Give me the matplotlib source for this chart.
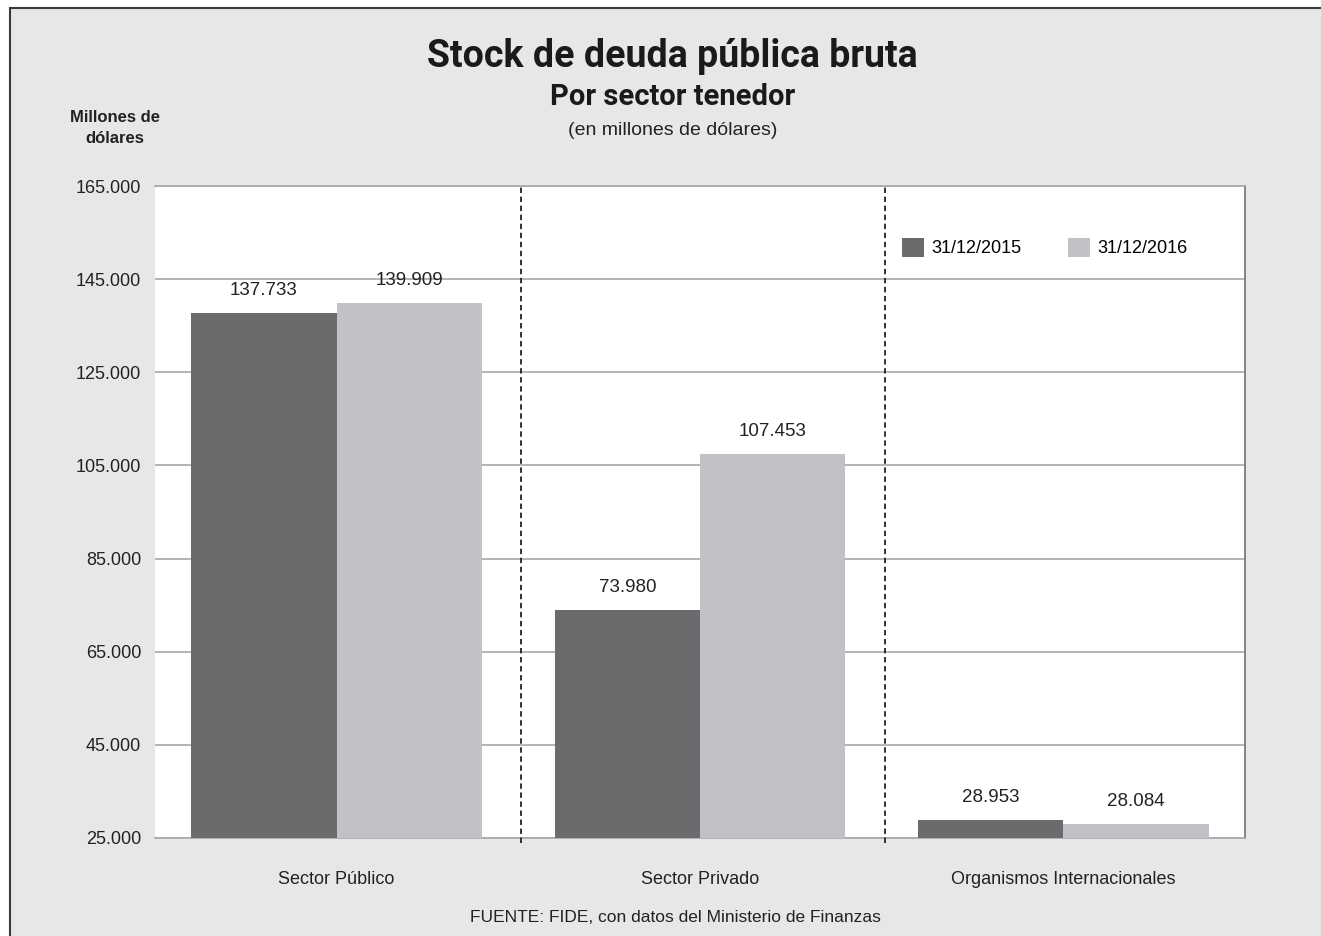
import matplotlib.pyplot as plt
from matplotlib.patches import Rectangle
import numpy as np

categorias = ["Sector Público", "Sector Privado", "Organismos Internacionales"]
dic_2015 = [137733, 73980, 28953]
dic_2016 = [139909, 107453, 28084]
etiquetas_2015 = ["137.733", "73.980", "28.953"]
etiquetas_2016 = ["139.909", "107.453", "28.084"]
ticks_y = [25000, 45000, 65000, 85000, 105000, 125000, 145000, 165000]
series = ["31/12/2015", "31/12/2016"]

oscuro = "#6b6b6d"
claro = "#c1c2c6"
fondo = "#e6e7e9"
texto = ["Liberation Sans", "DejaVu Sans"]

fig = plt.figure(figsize=(13.21, 9.36), dpi=100)
fig.patch.set_facecolor("white")
fig.patches.append(Rectangle((10 / 1321, -0.02), 1.05, 1.02 - 8 / 936,
                             transform=fig.transFigure, facecolor=fondo,
                             edgecolor="#3a3a3a", linewidth=1.5, zorder=-5))

ax = fig.add_axes([155 / 1321, 98 / 936, 1090 / 1321, 652 / 936])
ax.set_zorder(2)
ax.set_facecolor("white")

x = np.arange(len(categorias))
w = 0.4
b1 = ax.bar(x - w / 2, dic_2015, w, color=oscuro, zorder=3)
b2 = ax.bar(x + w / 2, dic_2016, w, color=claro, zorder=3)

for barras, etiquetas in [(b1, etiquetas_2015), (b2, etiquetas_2016)]:
    for r, t in zip(barras, etiquetas):
        ax.annotate(t, (r.get_x() + r.get_width() / 2, r.get_height()),
                    xytext=(0, 10), textcoords="offset points",
                    ha="center", va="bottom", fontsize=13.5, family=texto,
                    color="#222222")

ax.set_xlim(-0.5, 2.5)
ax.set_ylim(25000, 165000)
ax.set_yticks(ticks_y)
ax.set_yticklabels([f"{v:,}".replace(",", ".") for v in ticks_y],
                   fontsize=13, family=texto, color="#222222")
ax.set_xticks(x)
ax.set_xticklabels(categorias, fontsize=13, family=texto, color="#222222")
ax.tick_params(axis="both", length=0)
ax.tick_params(axis="y", pad=10)
ax.tick_params(axis="x", pad=24)
ax.grid(axis="y", color="#a8a8a8", linewidth=1.2, zorder=1)

for lado in ["top", "bottom"]:
    ax.spines[lado].set_color("#a8a8a8")
    ax.spines[lado].set_linewidth(1.2)
ax.spines["right"].set_color("#707070")
ax.spines["right"].set_linewidth(1.2)
ax.spines["left"].set_visible(False)

# separadores entre categorías
for xs in [0.5, 1.5]:
    ax.axvline(xs + 0.008, ymin=-0.008, ymax=1, color="#222222", linestyle=(0, (3, 2)),
               linewidth=1.3, clip_on=False, zorder=4)

leg = ax.legend([b1, b2], series, loc="upper right", bbox_to_anchor=(0.962, 0.945),
                ncol=2, frameon=False, prop={"family": texto, "size": 13},
                handlelength=1.2, handleheight=1.2, columnspacing=2.6,
                handletextpad=0.4)

fig.text(0.509, 0.940, "Stock de deuda pública bruta", ha="center", va="center",
         fontsize=27, fontweight="bold", family="Roboto", color="#1a1a1a")
fig.text(0.509, 0.896, "Por sector tenedor", ha="center", va="center",
         fontsize=21, fontweight="bold", family="Roboto", color="#1a1a1a")
fig.text(0.509, 0.861, "(en millones de dólares)", ha="center", va="center",
         fontsize=14, family=texto, color="#222222")
fig.text(115 / 1321, 1 - 128 / 936, "Millones de\ndólares", ha="center", va="center",
         fontsize=12, fontweight="bold", family=texto, color="#222222",
         linespacing=1.5)
fig.text(675 / 1321, 1 - 917 / 936, "FUENTE: FIDE, con datos del Ministerio de Finanzas",
         ha="center", va="center", fontsize=12.5, family=texto, color="#222222")

fig.savefig("out.png", dpi=100)
